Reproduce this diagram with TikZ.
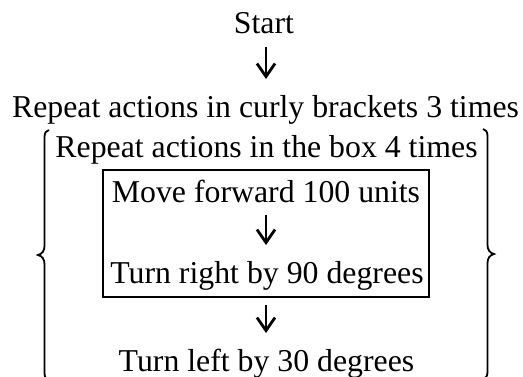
\documentclass[tikz,border=0pt]{standalone}
\usepackage{fontspec}
\setmainfont{Liberation Serif}
\usetikzlibrary{arrows.meta}
\begin{document}
\begin{tikzpicture}[x=1pt,y=-1pt,
  txt/.style={inner sep=0pt,anchor=base,font=\fontsize{31.8}{38}\selectfont},
  arr/.style={line width=2.5pt,-{Straight Barb[length=13pt,width=18pt,line width=2.8pt]}},
  boxline/.style={line width=1.3pt},
  bracel/.style={line width=1.8pt,line cap=butt}]
\useasboundingbox (0,0) rectangle (523,376);
\clip (0,0) rectangle (523,376);
\node[txt] (start) at (264,33) {Start};
\node[txt] (rep1) at (265.5,117) {Repeat actions in curly brackets 3 times};
\node[txt] (rep2) at (266.5,157) {Repeat actions in the box 4 times};
\node[txt] (move) at (266,202) {Move forward 100 units};
\node[txt] (turnr) at (267,283) {Turn right by 90 degrees};
\node[txt] (turnl) at (266.5,371) {Turn left by 30 degrees};
\node[boxline,draw,minimum width=326pt,minimum height=127pt,inner sep=0pt] (box) at (266,233.5) {};
% arrows
\draw[arr] ([xshift=2pt,yshift=-14pt]start.base) -- ([xshift=0.5pt,yshift=38pt]rep1.base);
\draw[arr] ([yshift=-13pt]move.base) -- ([yshift=38pt]turnr.base -| move.base);
\draw[arr] ([yshift=-7pt]box.south) -- ([yshift=38pt]turnl.base -| box.south);
% braces
\draw[bracel] (49,130) .. controls (46,130.5) and (44.5,133) .. (44.5,137)
  -- (44.5,246) .. controls (44.5,251) and (42,254) .. (38,255)
  .. controls (42,256) and (44.5,259) .. (44.5,264)
  -- (44.5,373) .. controls (44.5,377) and (46,379.5) .. (49,380);
\draw[bracel] (483,129) .. controls (486,129.5) and (487.5,132) .. (487.5,136)
  -- (487.5,245) .. controls (487.5,250) and (490,253) .. (494,254)
  .. controls (490,255) and (487.5,258) .. (487.5,263)
  -- (487.5,372) .. controls (487.5,376) and (486,378.5) .. (483,379);
\end{tikzpicture}
\end{document}
